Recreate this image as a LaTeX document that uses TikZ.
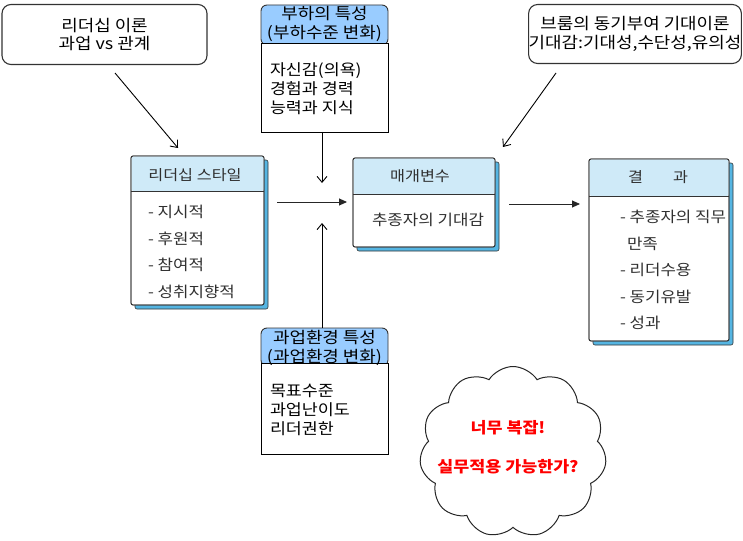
\documentclass[tikz,border=0pt]{standalone}
\usepackage{fontspec}
\setmainfont{Noto Sans CJK KR}[FakeStretch=1.12]
\usetikzlibrary{shapes.symbols,arrows.meta}
\definecolor{hdrA}{HTML}{99CCFF}
\definecolor{hdrB}{HTML}{CFEAF8}
\definecolor{side}{HTML}{55B5E2}
\definecolor{edge}{HTML}{333333}
\definecolor{txtg}{HTML}{303030}
\begin{document}
\begin{tikzpicture}[x=1pt,y=-1pt,
  every node/.style={inner sep=0pt, outer sep=0pt},
  topbox/.style={draw=edge, line width=1.1pt, rounded corners=9pt, align=center, font=\fontsize{16}{18.5}\selectfont},
  hdr/.style={draw=edge, line width=0.9pt, fill=hdrA, rounded corners=6pt},
  hdrtxt/.style={align=center, font=\fontsize{16}{19}\selectfont},
  bodybox/.style={draw=black, line width=0.9pt, fill=white},
  bodytxt/.style={align=left, anchor=west, font=\fontsize{15.5}{19}\selectfont},
  box3d/.style={draw=edge, line width=0.8pt, fill=white, rounded corners=2pt},
  sidebox/.style={draw=edge, line width=0.6pt, fill=side, rounded corners=2pt},
  htxt/.style={text=txtg, font=\fontsize{14.5}{17}\selectfont},
  item/.style={anchor=west, text=txtg, font=\fontsize{15}{17}\selectfont},
  openarr/.style={-{Straight Barb[length=6pt,width=10pt]}, line width=0.9pt},
  solidarr/.style={-{Triangle[length=8pt,width=7pt]}, line width=0.9pt, draw=black!85},
  cloudtxt/.style={text=red, font=\bfseries\fontsize{15.5}{18}\selectfont}
]
\useasboundingbox (0,0) rectangle (743,540);

% ---------- top boxes ----------
\node[topbox, minimum width=205pt, minimum height=60pt] (tl) at (104.5,34.5) {리더십 이론\\과업 vs 관계};
\node[topbox, minimum width=210pt, minimum height=59pt] (tr) at (635,34) {브룸의 동기부여 기대이론\\기대감:기대성,수단성,유의성};

% ---------- subordinate characteristics ----------
\node[hdr, minimum width=127pt, minimum height=40pt] (bh) at (324.5,25) {};
\node[bodybox, minimum width=127pt, minimum height=89pt] (bb) at (324.5,87.5) {};
\node[hdrtxt] (bht) at (324.5,23.5) {부하의 특성\\(부하수준 변화)};
\node[bodytxt] (bbt) at (270,88.5) {자신감(의욕)\\경험과 경력\\능력과 지식};

% ---------- task environment ----------
\node[hdr, minimum width=127pt, minimum height=38pt] (th) at (324.5,347) {};
\node[bodybox, minimum width=127pt, minimum height=91pt] (tb) at (324.5,408.5) {};
\node[hdrtxt] (tht) at (324.5,348) {과업환경 특성\\(과업환경 변화)};
\node[bodytxt] (tbt) at (270,409.5) {목표수준\\과업난이도\\리더권한};

% ---------- leadership style box ----------
\draw[sidebox] (135,160) rectangle (268,309);
\node[box3d, minimum width=133pt, minimum height=149pt] (lb) at (197.5,230.5) {};
\fill[hdrB, rounded corners=1.5pt] (131.5,156.5) rectangle (263.5,191);
\draw[edge, line width=0.8pt] (131,191) -- (264,191);
\draw[edge, line width=0.8pt, rounded corners=2pt] (131,156) rectangle (264,305);
\node[htxt] (lbh) at (195,175) {리더십 스타일};
\node[item] (l1) at (148,212) {- 지시적};
\node[item] (l2) at (148,239) {- 후원적};
\node[item] (l3) at (148,265) {- 참여적};
\node[item] (l4) at (148,292) {- 성취지향적};

% ---------- mediating variable box ----------
\draw[sidebox] (357,162) rectangle (499,251);
\node[box3d, minimum width=142pt, minimum height=89pt] (mb) at (424,202.5) {};
\fill[hdrB, rounded corners=1.5pt] (353.5,158.5) rectangle (494.5,194);
\draw[edge, line width=0.8pt] (353,194) -- (495,194);
\draw[edge, line width=0.8pt, rounded corners=2pt] (353,158) rectangle (495,247);
\node[htxt] (mbh) at (420,176) {매개변수};
\node[htxt, font=\fontsize{15}{17}\selectfont] (mbt) at (428,220) {추종자의 기대감};

% ---------- result box ----------
\draw[sidebox] (593,163) rectangle (733,345);
\node[box3d, minimum width=140pt, minimum height=182pt] (rb) at (659,250) {};
\fill[hdrB, rounded corners=1.5pt] (589.5,159.5) rectangle (728.5,196);
\draw[edge, line width=0.8pt] (589,196) -- (729,196);
\draw[edge, line width=0.8pt, rounded corners=2pt] (589,159) rectangle (729,341);
\node[htxt] (rbh) at (658,177) {결\hspace{30pt}과};
\node[item] (r1) at (620,217) {- 추종자의 직무};
\node[item] (r1b) at (627,244) {만족};
\node[item] (r2) at (620,270) {- 리더수용};
\node[item] (r3) at (620,297) {- 동기유발};
\node[item] (r4) at (620,323) {- 성과};

% ---------- arrows ----------
\coordinate (a1s) at (115,73);
\coordinate (a1e) at (178,148);
\coordinate (a3s) at (556,73);
\coordinate (a3e) at (503,147);
\coordinate (a2e) at (322,183);
\coordinate (a6e) at (322,223);
\coordinate (a4s) at (277,202);
\coordinate (a4e) at (347,202);
\coordinate (a5s) at (509,204);
\coordinate (a5e) at (580,204);
\draw[openarr] (a1s) -- (a1e);
\draw[openarr] (a3s) -- (a3e);
\draw[openarr] (bb.south -| a2e) -- (a2e);
\draw[openarr] (th.north -| a6e) -- (a6e);
\draw[solidarr] (a4s) -- (a4e);
\draw[solidarr] (a5s) -- (a5e);

% ---------- cloud ----------
\node[cloud, draw=black!85, line width=1pt, cloud puffs=11, cloud puff arc=115,
      cloud ignores aspect, minimum width=187pt, minimum height=171pt] (cl) at (513,452) {};
\node[cloudtxt] (c1) at (508,428) {너무 복잡!};
\node[cloudtxt] (c2) at (508,467) {실무적용 가능한가?};
\end{tikzpicture}
\end{document}
